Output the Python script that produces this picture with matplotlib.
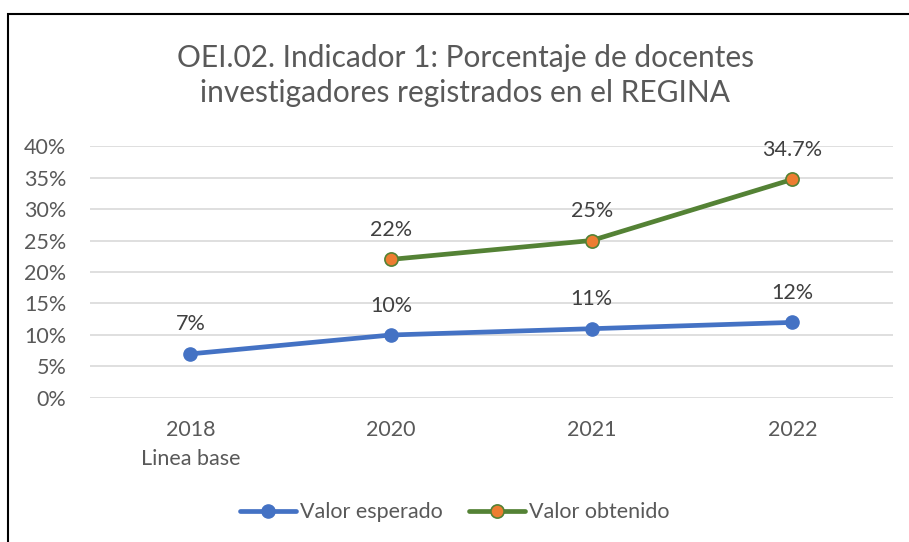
import matplotlib.pyplot as plt
from matplotlib.patches import Rectangle
from matplotlib.ticker import FuncFormatter

plt.rcParams['font.family'] = ['Lato', 'DejaVu Sans']

# chart data
years = ['2018\nLinea base', '2020', '2021', '2022']
esperado = [7, 10, 11, 12]
obtenido = [None, 22, 25, 34.7]
esperado_labels = ['7%', '10%', '11%', '12%']
obtenido_labels = ['', '22%', '25%', '34.7%']

text_grey = '#595959'
blue = '#4472C4'
green = '#548235'
orange = '#ED7D31'

fig = plt.figure(figsize=(9.09, 5.42), dpi=100)
ax = fig.add_axes([0.099, 0.2657, 0.883, 0.4649])

x = list(range(len(years)))

ax.plot(x, esperado, color=blue, lw=3.4, marker='o', ms=9.5,
        markerfacecolor=blue, markeredgecolor=blue, label='Valor esperado',
        solid_capstyle='round', zorder=3)

x_obt = [i for i, v in zip(x, obtenido) if v is not None]
y_obt = [v for v in obtenido if v is not None]
ax.plot(x_obt, y_obt, color=green, lw=3.4, marker='o', ms=9.5,
        markerfacecolor=orange, markeredgecolor=green, markeredgewidth=1.2,
        label='Valor obtenido', solid_capstyle='round', zorder=3)

# data labels above points
for i, v in enumerate(esperado):
    ax.annotate(esperado_labels[i], (i, v), xytext=(0, 14), textcoords='offset points',
                ha='center', va='bottom', fontsize=15.5, color='#404040')
for i, v in enumerate(obtenido):
    if v is None:
        continue
    ax.annotate(obtenido_labels[i], (i, v), xytext=(0, 14), textcoords='offset points',
                ha='center', va='bottom', fontsize=15.5, color='#404040')

ax.set_xlim(-0.5, len(years) - 0.5)
ax.set_ylim(0, 40)
ax.set_yticks(range(0, 41, 5))
ax.yaxis.set_major_formatter(FuncFormatter(lambda v, p: f'{int(v)}%'))
ax.set_xticks(x)
ax.set_xticklabels(years, linespacing=1.55)

ax.grid(axis='y', color='#D9D9D9', lw=1.2)
ax.set_axisbelow(True)
for s in ax.spines.values():
    s.set_visible(False)
ax.tick_params(axis='both', length=0, labelsize=15.5, labelcolor=text_grey)
ax.tick_params(axis='y', pad=17)
ax.tick_params(axis='x', pad=16)

fig.text(0.512, 0.86, 'OEI.02. Indicador 1: Porcentaje de docentes\ninvestigadores registrados en el REGINA',
         ha='center', va='center', fontsize=21.5, color=text_grey, linespacing=1.3)

leg = fig.legend(loc='center', bbox_to_anchor=(0.5, 0.055), ncol=2, frameon=False,
                 fontsize=15.5, handlelength=2.6, columnspacing=1.2, handletextpad=0.2)
for t in leg.get_texts():
    t.set_color(text_grey)

# chart border (only left and top fall inside the image)
fig.add_artist(Rectangle((8 / 909, -0.1), 1.2, 1 - 14 / 542 + 0.1, transform=fig.transFigure,
                         fill=False, edgecolor='black', lw=1.5))

fig.savefig('out.png', dpi=100, facecolor='white')
